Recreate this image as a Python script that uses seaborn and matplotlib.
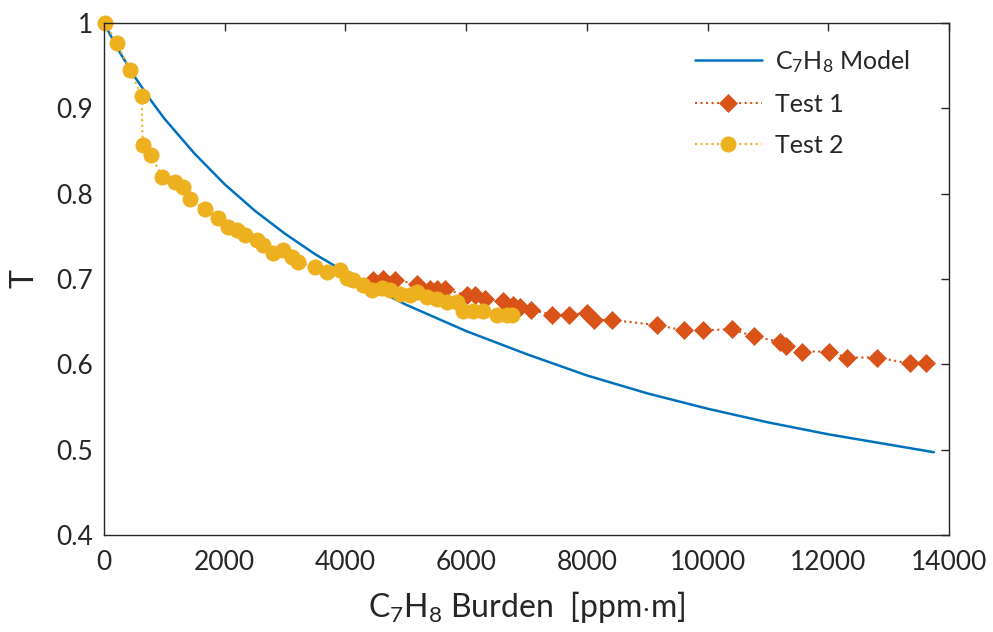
import matplotlib
matplotlib.use("Agg")
import matplotlib.pyplot as plt
import seaborn as sns
import pandas as pd

# model curve
model_x = [0, 250, 500, 750, 1000, 1500, 2000, 2500, 3000, 3500, 4000, 4500,
           5000, 6000, 7000, 8000, 9000, 10000, 11000, 12000, 13000, 13750]
model_t = [1.000, 0.967, 0.938, 0.912, 0.888, 0.847, 0.811, 0.780, 0.753,
           0.729, 0.708, 0.688, 0.670, 0.639, 0.612, 0.587, 0.566, 0.548,
           0.532, 0.518, 0.506, 0.497]

# Test 1
t1_x = [4451, 4628, 4821, 5191, 5401, 5512, 5650, 6009, 6146, 6312, 6616,
        6780, 6900, 7075, 7430, 7700, 7995, 8115, 8413, 9155, 9602, 9930,
        10404, 10762, 11208, 11296, 11564, 12011, 12308, 12813, 13348, 13615]
t1_t = [0.699, 0.700, 0.699, 0.694, 0.688, 0.688, 0.688, 0.681, 0.681,
        0.676, 0.674, 0.670, 0.667, 0.664, 0.658, 0.658, 0.660, 0.652,
        0.652, 0.646, 0.640, 0.640, 0.641, 0.633, 0.626, 0.621, 0.615,
        0.615, 0.608, 0.608, 0.601, 0.601]

# Test 2
t2_x = [16, 210, 431, 624, 641, 779, 966, 1176, 1314, 1425, 1673, 1894,
        2060, 2198, 2336, 2530, 2639, 2805, 2971, 3109, 3220, 3496, 3689,
        3910, 4021, 4131, 4297, 4435, 4600, 4738, 4904, 5070, 5181, 5346,
        5512, 5678, 5842, 5952, 6118, 6284, 6505, 6670, 6753]
t2_t = [1.000, 0.977, 0.945, 0.914, 0.857, 0.845, 0.820, 0.814, 0.808,
        0.794, 0.782, 0.771, 0.761, 0.757, 0.751, 0.746, 0.740, 0.730,
        0.734, 0.726, 0.720, 0.714, 0.708, 0.710, 0.701, 0.699, 0.693,
        0.687, 0.689, 0.687, 0.683, 0.681, 0.685, 0.679, 0.677, 0.673,
        0.673, 0.663, 0.663, 0.663, 0.658, 0.658, 0.658]

xticks = [0, 2000, 4000, 6000, 8000, 10000, 12000, 14000]
yticks = [0.4, 0.5, 0.6, 0.7, 0.8, 0.9, 1.0]
ytick_labels = ["0.4", "0.5", "0.6", "0.7", "0.8", "0.9", "1"]

blue, orange, yellow = "#0072BD", "#D95319", "#EDB120"

sns.set_style("white")
plt.rcParams["font.family"] = ["Lato", "DejaVu Sans"]
plt.rcParams["mathtext.fontset"] = "custom"
plt.rcParams["mathtext.rm"] = "Lato"
plt.rcParams["mathtext.it"] = "Lato"

fig, ax = plt.subplots(figsize=(9.93, 6.32), dpi=100)
fig.subplots_adjust(left=0.1047, right=0.9557, top=0.9636, bottom=0.1535)

model = pd.DataFrame({"x": model_x, "T": model_t})
test1 = pd.DataFrame({"x": t1_x, "T": t1_t})
test2 = pd.DataFrame({"x": t2_x, "T": t2_t})

sns.lineplot(data=model, x="x", y="T", ax=ax, color=blue, lw=1.8,
             sort=False, label=r"C$_7$H$_8$ Model")
sns.lineplot(data=test1, x="x", y="T", ax=ax, color=orange, lw=1.5,
             linestyle=":", marker="D", markersize=9, markeredgecolor=orange,
             markeredgewidth=0.5, sort=False, label="Test 1")
sns.lineplot(data=test2, x="x", y="T", ax=ax, color=yellow, lw=1.5,
             linestyle=":", marker="o", markersize=11, markeredgecolor=yellow,
             markeredgewidth=0.5, sort=False, label="Test 2", clip_on=False)

ax.set_xlim(0, 14000)
ax.set_ylim(0.4, 1.0)
ax.set_xticks(xticks)
ax.set_xticklabels([str(v) for v in xticks])
ax.set_yticks(yticks)
ax.set_yticklabels(ytick_labels)
ax.tick_params(direction="in", length=6, width=1, colors="#262626",
               labelsize=19, top=True, right=True)
ax.tick_params(axis="x", pad=11)
ax.tick_params(axis="y", pad=8)
for s in ax.spines.values():
    s.set_color("#262626")
    s.set_linewidth(1)

ax.set_xlabel(r"C$_7$H$_8$ Burden  [ppm$\cdot$m]", fontsize=23,
              color="#262626", labelpad=10)
ax.set_ylabel("T", fontsize=23, color="#262626", labelpad=12)

ax.legend(loc="upper right", bbox_to_anchor=(0.98, 0.995), frameon=False,
          fontsize=18, handlelength=2.7, labelspacing=0.72, handletextpad=0.5)

fig.savefig("out.png", dpi=100)
